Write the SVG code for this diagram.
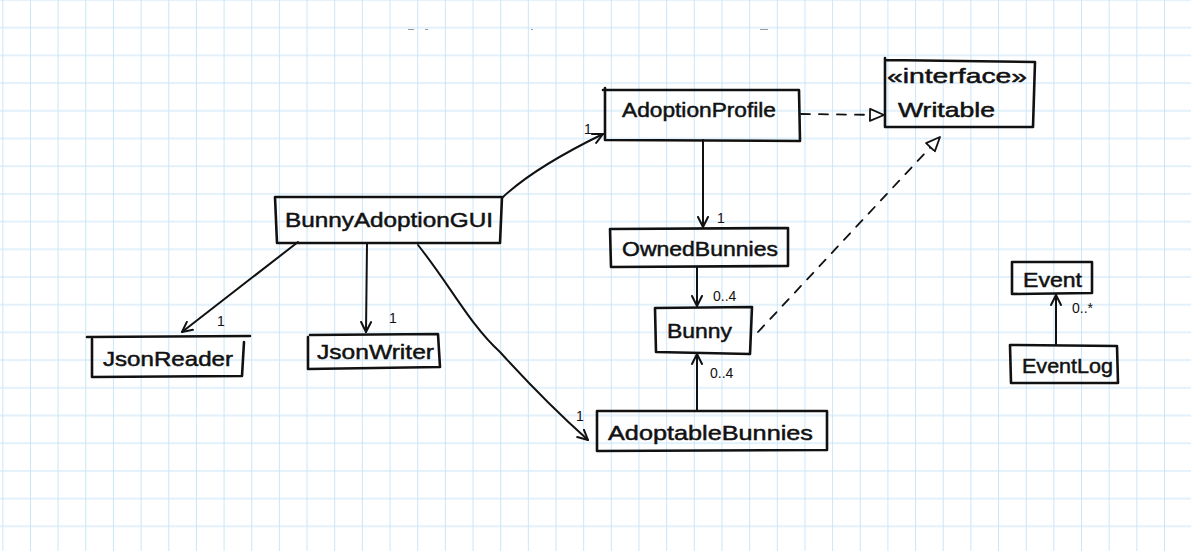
<svg xmlns="http://www.w3.org/2000/svg" width="1191" height="551" viewBox="0 0 1191 551">
<style>
.box{fill:none;stroke:#111;stroke-width:2.6;stroke-linecap:round;stroke-linejoin:round}
.lbl{font-family:"Liberation Sans","DejaVu Sans",sans-serif;font-size:21px;fill:#111;stroke:#111;stroke-width:0.5}
.mult{font-family:"Liberation Sans","DejaVu Sans",sans-serif;font-size:14px;fill:#111}
.assoc{fill:none;stroke:#111;stroke-width:2;stroke-linecap:round}
.real{fill:none;stroke:#111;stroke-width:1.8;stroke-dasharray:9 9;stroke-linecap:round}
</style>
<defs>
<pattern id="grid" patternUnits="userSpaceOnUse" x="2.3" y="-1" width="27.66" height="27.7">
<rect x="0" y="0" width="27.66" height="2" fill="#e2f1fb"/>
<rect x="0" y="0" width="1" height="27.7" fill="#cbe6f7"/>
</pattern>
<marker id="open" viewBox="0 0 12 12" refX="11" refY="6" markerWidth="12" markerHeight="12" markerUnits="userSpaceOnUse" orient="auto">
<path d="M1,1 L11,6 L1,11" fill="none" stroke="#111" stroke-width="2" stroke-linecap="round" stroke-linejoin="round"/>
</marker>
<marker id="tri" viewBox="0 0 16 16" refX="15" refY="8" markerWidth="16" markerHeight="16" markerUnits="userSpaceOnUse" orient="auto">
<path d="M1,2 L15,8 L1,14 Z" fill="#fff" stroke="#111" stroke-width="1.8" stroke-linejoin="round"/>
</marker>
</defs>
<rect width="1191" height="551" fill="#fff"/>
<rect width="1191" height="551" fill="url(#grid)"/>
<g fill="#999">
<rect x="408" y="29" width="6" height="1"/><rect x="425" y="29" width="3" height="1"/><rect x="531" y="29" width="2" height="1"/><rect x="760" y="29" width="8" height="1"/>
</g>

<g id="connectors">
<path class="assoc" d="M502,198 C525,176 560,155 603,134" marker-end="url(#open)"/>
<path class="assoc" d="M703,140 L703,227" marker-end="url(#open)"/>
<path class="assoc" d="M697,267 L697,306" marker-end="url(#open)"/>
<path class="assoc" d="M697,410 L697,354" marker-end="url(#open)"/>
<path class="assoc" d="M418,245 C450,285 470,325 500,352 C530,385 560,415 588,440" marker-end="url(#open)"/>
<path class="assoc" d="M298,242 L182,332" marker-end="url(#open)"/>
<path class="assoc" d="M367,244 L366,332" marker-end="url(#open)"/>
<path class="assoc" d="M1056,345 L1056,295" marker-end="url(#open)"/>
<path class="real" d="M801,114 L884,115" marker-end="url(#tri)"/>
<path class="real" d="M758,332 L940,137" marker-end="url(#tri)"/>
<text class="mult" x="584" y="134">1</text>
<text class="mult" x="717" y="223">1</text>
<text class="mult" x="713" y="301">0..4</text>
<text class="mult" x="710" y="378">0..4</text>
<text class="mult" x="576" y="421">1</text>
<text class="mult" x="217" y="326">1</text>
<text class="mult" x="389" y="323">1</text>
<text class="mult" x="1072" y="313">0..*</text>
</g>

<g id="AdoptionProfile">
<path class="box" d="M605,88 L605,140 L800,141 L799,90 L603,90"/>
<text class="lbl" x="622" y="117" textLength="154" lengthAdjust="spacingAndGlyphs">AdoptionProfile</text>
</g>
<g id="Writable">
<path class="box" d="M885,58 L885,127 L1033,127 L1035,62 L886,60"/>
<text class="lbl" x="887" y="83" font-size="19" textLength="140" lengthAdjust="spacingAndGlyphs">«interface»</text>
<text class="lbl" x="898" y="117" textLength="97" lengthAdjust="spacingAndGlyphs">Writable</text>
</g>
<g id="BunnyAdoptionGUI">
<path class="box" d="M275,197 L277,243 L500,243 L502,197 Z"/>
<text class="lbl" x="285" y="227" textLength="208" lengthAdjust="spacingAndGlyphs">BunnyAdoptionGUI</text>
</g>
<g id="OwnedBunnies">
<path class="box" d="M610,229 L611,267 L788,266 L788,228 Z"/>
<text class="lbl" x="622" y="256" textLength="156" lengthAdjust="spacingAndGlyphs">OwnedBunnies</text>
</g>
<g id="Bunny">
<path class="box" d="M655,308 L656,352 L750,354 L752,307 Z"/>
<text class="lbl" x="667" y="338" textLength="65" lengthAdjust="spacingAndGlyphs">Bunny</text>
</g>
<g id="AdoptableBunnies">
<path class="box" d="M597,411 L597,451 L827,450 L827,411 Z"/>
<text class="lbl" x="608" y="440" textLength="205" lengthAdjust="spacingAndGlyphs">AdoptableBunnies</text>
</g>
<g id="JsonReader">
<path class="box" d="M87,337 L250,336 M92,339 L92,377 L242,376 L244,342"/>
<text class="lbl" x="103" y="366" textLength="130" lengthAdjust="spacingAndGlyphs">JsonReader</text>
</g>
<g id="JsonWriter">
<path class="box" d="M308,337 L308,369 L440,367 L438,334 L310,335"/>
<text class="lbl" x="317" y="359" textLength="117" lengthAdjust="spacingAndGlyphs">JsonWriter</text>
</g>
<g id="Event">
<path class="box" d="M1012,262 L1012,294 L1092,293 L1092,262 Z"/>
<text class="lbl" x="1023" y="287" textLength="59" lengthAdjust="spacingAndGlyphs">Event</text>
</g>
<g id="EventLog">
<path class="box" d="M1010,345 L1011,383 L1118,383 L1117,346 Z"/>
<text class="lbl" x="1022" y="373" textLength="91" lengthAdjust="spacingAndGlyphs">EventLog</text>
</g>
</svg>
